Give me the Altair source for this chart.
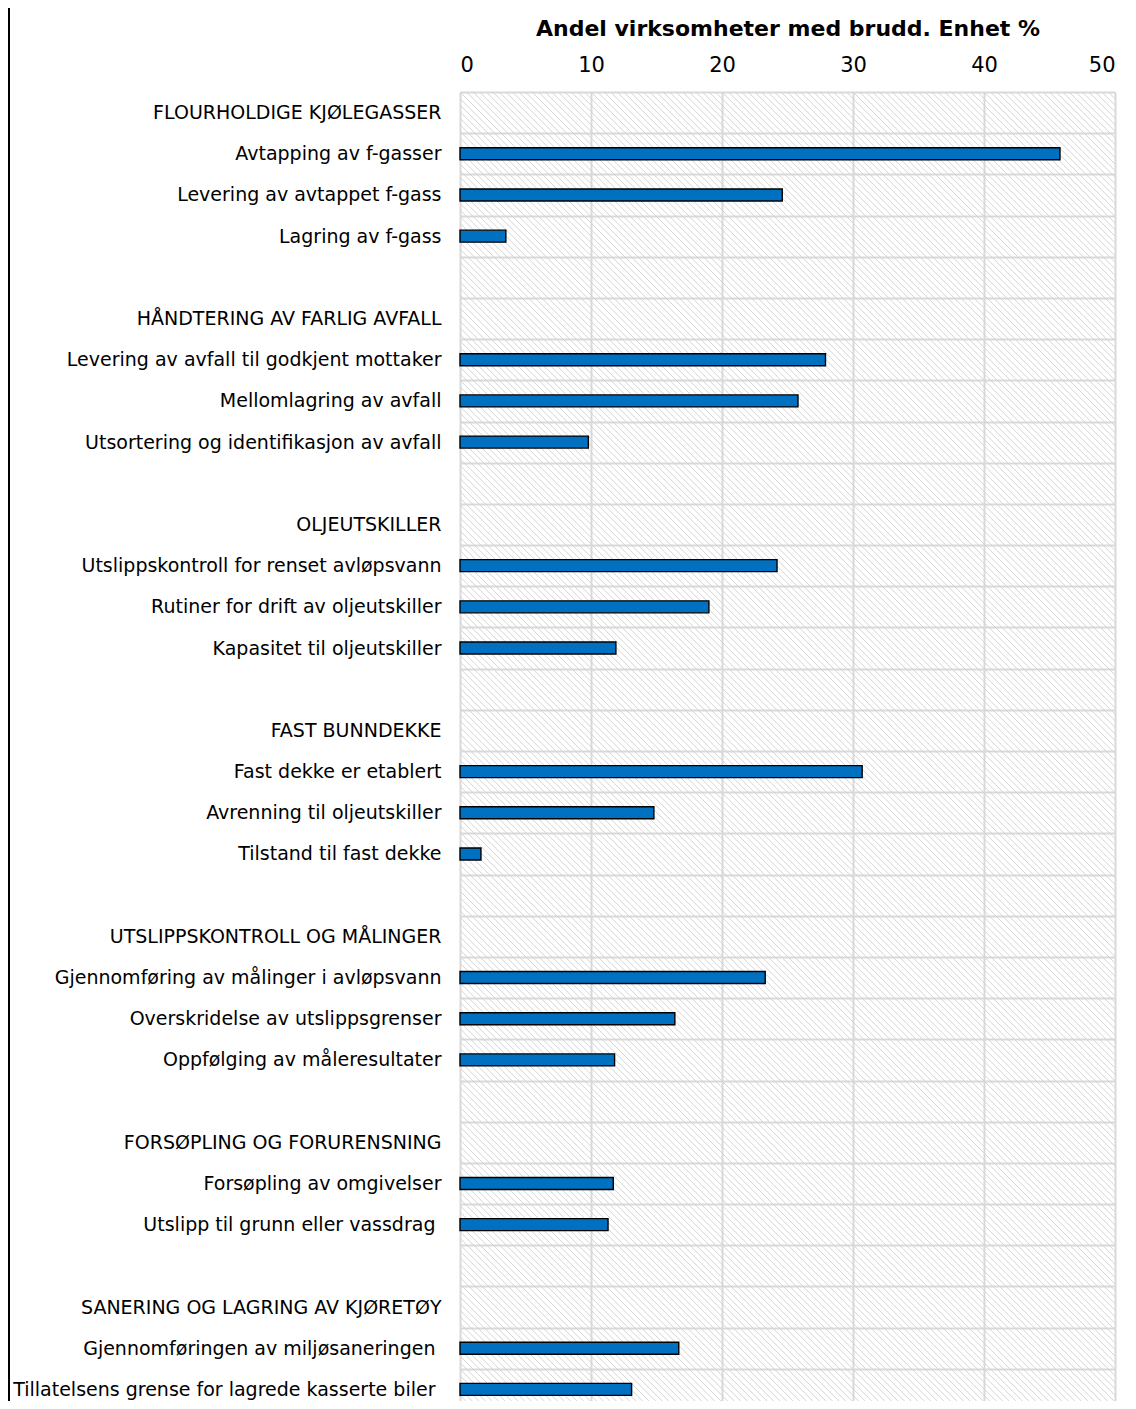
import altair as alt
import pandas as pd

categories = [
    "FLOURHOLDIGE KJØLEGASSER",
    "Avtapping av f-gasser",
    "Levering av avtappet f-gass",
    "Lagring av f-gass",
    " ",
    "HÅNDTERING AV FARLIG AVFALL",
    "Levering av avfall til godkjent mottaker",
    "Mellomlagring av avfall",
    "Utsortering og identifikasjon av avfall",
    "  ",
    "OLJEUTSKILLER",
    "Utslippskontroll for renset avløpsvann",
    "Rutiner for drift av oljeutskiller",
    "Kapasitet til oljeutskiller",
    "   ",
    "FAST BUNNDEKKE",
    "Fast dekke er etablert",
    "Avrenning til oljeutskiller",
    "Tilstand til fast dekke",
    "    ",
    "UTSLIPPSKONTROLL OG MÅLINGER",
    "Gjennomføring av målinger i avløpsvann",
    "Overskridelse av utslippsgrenser",
    "Oppfølging av måleresultater",
    "     ",
    "FORSØPLING OG FORURENSNING",
    "Forsøpling av omgivelser",
    "Utslipp til grunn eller vassdrag\u00a0\u200b",
    "      ",
    "SANERING OG LAGRING AV KJØRETØY",
    "Gjennomføringen av miljøsaneringen\u00a0\u200b",
    "Tillatelsens grense for lagrede kasserte biler\u00a0\u200b",
]

values = [
    None, 45.8, 24.6, 3.5,
    None,
    None, 27.9, 25.8, 9.8,
    None,
    None, 24.2, 19.0, 11.9,
    None,
    None, 30.7, 14.8, 1.6,
    None,
    None, 23.3, 16.4, 11.8,
    None,
    None, 11.7, 11.3,
    None,
    None, 16.7, 13.1,
]

x_ticks = [0, 10, 20, 30, 40, 50]

df = pd.DataFrame({"cat": categories, "val": values})

W = 655
H = 1309          # visible plot height (page is cut here)
ROWS_H = 1318     # full height of the 32 rows
FONT = "DejaVu Sans"

xscale = alt.Scale(domain=[0, 50], nice=False, zero=True)
yscale = alt.Scale(domain=categories, range=[0, ROWS_H], paddingInner=0, paddingOuter=0)

bars = alt.Chart(df).mark_bar(
    color="#0070C0", stroke="#000000", strokeWidth=1.4, size=12
).transform_filter("datum.val != null").encode(
    x=alt.X(
        "val:Q",
        scale=xscale,
        axis=alt.Axis(
            orient="top",
            values=x_ticks,
            title="Andel virksomheter med brudd. Enhet %",
            titleFont=FONT,
            titleFontSize=22,
            titleFontWeight="bold",
            titleColor="#000000",
            titlePadding=14,
            labelFont=FONT,
            labelFontSize=21,
            labelColor="#000000",
            labelPadding=17,
            ticks=False,
            domain=False,
            grid=True,
            gridColor="#d9d9d9",
            gridWidth=2,
        ),
    ),
    y=alt.Y(
        "cat:N",
        sort=categories,
        scale=yscale,
        axis=alt.Axis(
            title=None,
            labelFont=FONT,
            labelFontSize=19,
            labelColor="#000000",
            labelPadding=19,
            labelLimit=600,
            ticks=False,
            domain=False,
            grid=True,
            tickBand="extent",
            gridColor="#d9d9d9",
            gridWidth=2,
        ),
    ),
)

hatch = alt.Chart(alt.sequence(-101, 50, 0.5, as_="u")).transform_calculate(
    u2="datum.u + 100.62"
).mark_rule(clip=True, stroke="#d4d4d4", strokeWidth=1).encode(
    x=alt.X("u:Q", scale=xscale),
    x2="u2:Q",
    y=alt.value(0),
    y2=alt.value(ROWS_H),
)

border = alt.Chart(pd.DataFrame({"a": [0]})).mark_rule(
    stroke="#000000", strokeWidth=2
).encode(x=alt.value(-451), y=alt.value(-92), y2=alt.value(H))

chart = alt.layer(hatch, bars, border).properties(
    width=W,
    height=H,
    autosize=alt.AutoSizeParams(type="none"),
    padding={"left": 452, "top": 84, "right": 13, "bottom": 0},
).configure_view(stroke=None)

chart.save("out.html", embed_options={"renderer": "svg", "actions": False})
